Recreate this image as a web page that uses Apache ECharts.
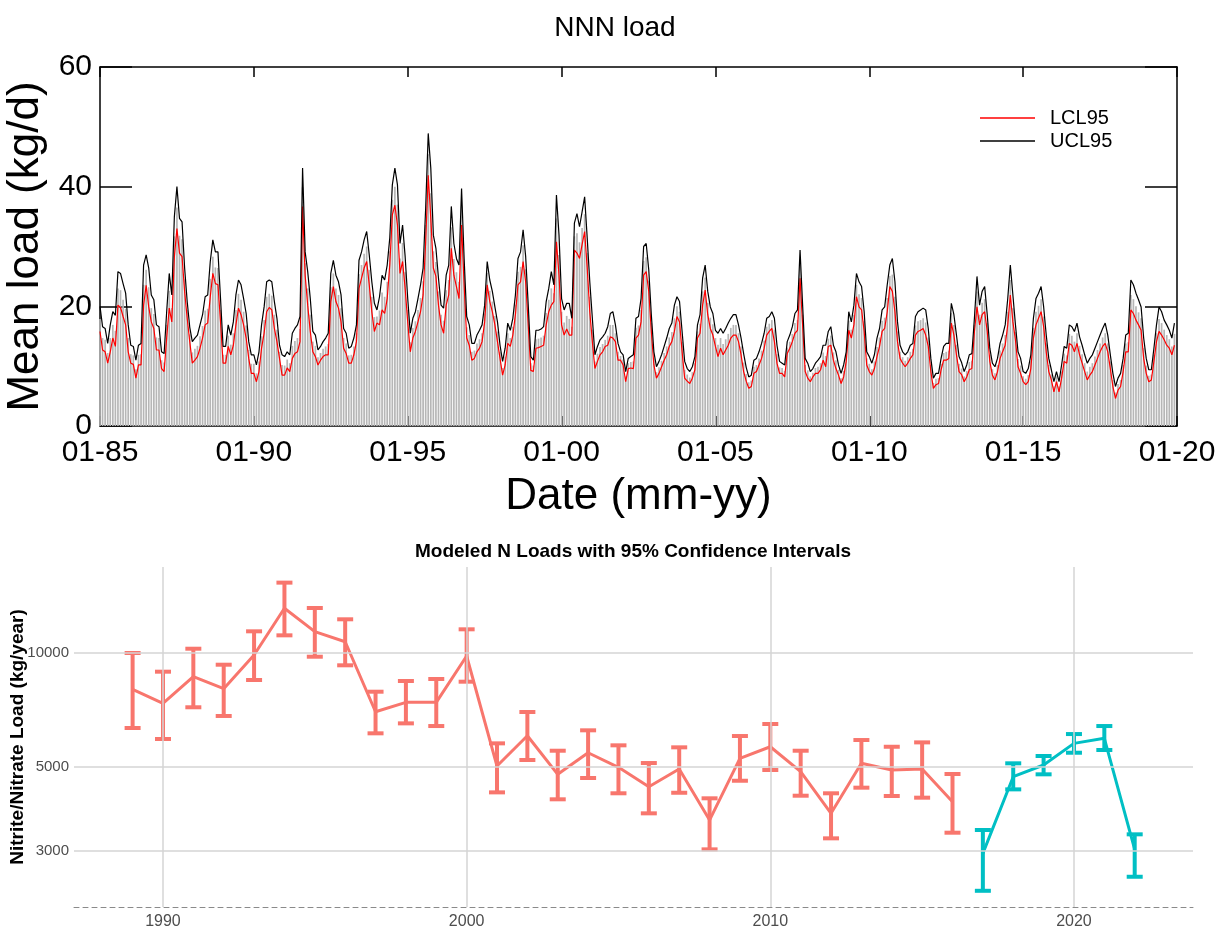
<!DOCTYPE html>
<html><head><meta charset="utf-8">
<script src="https://cdn.jsdelivr.net/npm/echarts@6/dist/echarts.min.js"></script>
<style>html,body{margin:0;padding:0;background:#fff}#c{width:1219px;height:926px}</style>
</head><body><div id="c"></div>
<script>
// ---------- Top chart: monthly NNN load (kg/d), one row per year 1985..2019 ----------
const startYear = 1985;
const monthlyUCL = [
[20.0,16.6,16.3,13.8,16.9,19.1,18.5,25.8,25.5,23.8,22.2,16.9],
[13.5,13.3,11.0,13.5,13.8,26.9,28.6,26.4,21.9,21.1,16.9,16.6],
[12.4,12.1,19.1,25.5,21.9,35.0,40.0,34.7,34.1,26.4,20.8,16.5],
[14.1,14.7,15.2,16.9,18.6,21.6,21.9,27.5,31.1,29.1,29.1,21.3],
[13.3,13.3,16.9,15.2,17.4,21.9,24.4,23.6,21.3,18.8,14.1,11.9],
[11.9,10.2,12.4,16.9,19.9,24.1,24.4,24.1,20.8,18.0,13.5,11.9],
[11.6,12.4,11.9,15.5,16.3,16.9,18.3,43.1,29.1,25.8,21.3,15.8],
[15.2,12.7,13.3,14.1,14.7,15.5,25.5,27.7,25.2,24.1,21.9,16.3],
[15.5,13.0,13.3,14.7,16.9,27.7,29.1,31.1,32.5,28.6,24.1,20.5],
[19.4,21.6,25.2,24.4,26.9,31.4,40.3,43.1,40.3,30.5,33.6,28.3],
[21.3,15.5,18.0,19.1,21.3,23.6,26.4,36.4,48.9,43.1,31.9,29.7],
[24.7,20.2,19.7,25.2,26.9,36.7,30.5,28.0,26.9,39.7,28.0,18.3],
[16.9,13.8,13.8,15.2,16.0,16.9,20.2,27.5,24.4,22.5,19.9,17.4],
[13.5,10.8,13.0,17.2,16.0,18.0,21.9,28.0,29.1,32.8,28.3,20.2],
[11.6,11.0,16.0,16.0,16.2,16.6,20.8,23.0,25.8,23.6,38.6,31.9],
[21.3,19.4,20.5,20.5,18.0,33.9,35.5,33.3,35.8,38.3,31.4,24.1],
[18.0,11.9,13.3,14.4,14.9,15.5,16.6,18.8,19.1,16.9,13.8,12.4],
[11.9,9.1,11.3,11.6,11.9,18.0,18.3,21.3,30.0,30.5,26.1,18.6],
[12.4,9.9,10.8,11.9,13.3,14.7,16.3,17.2,20.2,21.6,20.8,15.8],
[10.8,9.6,9.1,9.9,11.6,16.9,18.6,24.7,26.9,22.5,19.9,18.8],
[16.0,15.5,16.3,15.5,16.3,17.2,18.0,18.6,18.6,16.9,14.7,12.1],
[9.8,8.2,8.5,11.0,11.3,12.4,13.8,15.5,18.0,18.3,19.1,18.0],
[13.5,10.8,10.5,10.2,14.1,15.2,16.6,18.8,19.4,29.4,20.2,11.3],
[10.5,9.1,9.6,10.5,11.0,11.6,13.5,13.5,15.8,16.6,13.5,12.4],
[10.2,8.8,10.2,12.4,19.1,17.4,20.2,25.5,24.1,23.3,19.1,12.4],
[11.6,10.5,11.9,14.7,16.3,19.4,19.9,23.6,26.9,28.0,24.1,17.4],
[13.5,12.4,11.9,12.4,13.5,13.8,18.3,19.1,19.4,19.7,19.4,16.3],
[11.3,8.0,8.8,8.8,11.3,13.3,13.8,13.8,20.5,18.6,15.2,11.6],
[10.6,9.1,10.2,11.9,12.1,18.0,25.0,20.2,22.5,23.3,18.6,13.0],
[10.5,9.9,11.3,13.8,15.2,16.9,21.3,26.9,21.9,16.9,12.4,11.3],
[9.1,8.8,9.6,11.9,18.0,21.3,22.2,23.3,19.9,15.2,11.3,9.4],
[7.4,9.1,7.4,10.2,13.3,13.0,16.9,16.6,15.8,17.2,14.9,13.5],
[11.9,10.5,11.3,11.9,13.0,14.1,15.2,16.3,17.2,15.2,11.9,8.8],
[6.6,8.0,8.8,11.3,15.2,15.5,24.4,23.6,22.2,21.1,19.9,14.7],
[11.3,9.4,9.4,13.0,16.9,19.9,19.1,17.7,16.9,16.0,14.7,17.2]
];
const monthlyLCL = [
[15.8,12.7,12.4,10.5,12.4,14.7,13.3,20.2,19.8,18.3,16.9,12.4],
[10.5,10.3,8.0,10.2,10.2,20.2,23.5,19.9,17.4,16.3,12.7,12.7],
[9.6,9.1,14.7,19.7,17.4,28.3,33.0,28.9,28.3,22.5,18.0,14.1],
[10.5,11.0,11.6,13.0,14.7,16.9,17.2,21.6,25.5,23.8,23.6,17.4],
[10.5,10.5,13.3,11.9,13.5,16.9,19.7,18.6,16.9,14.7,11.3,8.8],
[8.8,7.4,9.1,13.0,15.5,19.1,19.8,19.4,16.3,14.1,11.3,8.5],
[8.5,9.7,9.1,11.3,12.1,12.4,14.1,36.7,25.2,20.2,15.8,12.4],
[11.6,10.2,11.0,11.6,11.9,11.9,20.8,23.3,20.8,19.7,17.4,13.0],
[12.1,10.5,10.5,11.9,14.1,23.0,24.7,26.4,27.5,23.6,19.1,15.8],
[17.2,16.9,19.4,18.8,21.3,26.9,35.3,36.9,33.6,25.5,27.5,23.0],
[17.4,12.4,14.7,15.8,17.4,19.1,21.9,30.8,41.9,34.7,26.4,25.0],
[20.2,16.9,15.5,20.2,21.9,29.7,25.2,23.3,21.3,33.6,23.6,14.7],
[13.5,11.0,11.3,12.4,13.0,14.1,17.4,23.6,20.8,19.1,16.9,14.1],
[11.3,8.5,10.2,13.8,13.3,15.2,18.6,23.6,24.1,27.5,24.1,16.9],
[9.3,9.1,13.0,13.1,13.3,13.5,16.9,19.1,20.2,20.8,30.8,25.2],
[16.9,15.2,16.2,15.2,15.2,29.4,28.9,28.0,30.3,32.5,26.4,19.1],
[14.1,9.6,10.8,11.9,12.4,13.3,13.5,14.9,14.7,14.1,11.0,11.0],
[10.2,7.4,9.6,9.7,9.6,14.7,15.2,17.4,25.2,25.8,22.5,15.8],
[10.2,8.0,8.8,9.9,11.0,11.9,13.3,14.1,15.8,18.3,17.4,12.4],
[8.0,7.5,7.1,8.0,9.4,14.7,15.5,20.2,22.7,18.6,16.3,15.2],
[13.3,11.6,13.0,11.9,12.7,13.5,14.7,15.2,15.2,14.1,11.9,9.1],
[7.5,6.3,6.6,8.8,9.1,10.2,11.3,13.0,15.2,15.8,16.3,14.1],
[10.5,8.8,8.8,8.2,12.1,13.0,14.1,15.5,16.0,24.7,16.9,9.1],
[8.0,7.4,8.2,8.8,8.8,9.4,11.0,9.9,13.3,13.5,11.0,9.6],
[8.5,7.1,8.2,10.8,16.0,14.7,16.9,21.6,19.9,19.4,15.8,10.2],
[9.1,8.5,9.6,11.6,13.3,15.8,16.3,19.1,23.3,22.5,19.1,14.1],
[11.3,10.5,9.9,10.5,11.3,11.9,15.2,15.8,16.0,16.3,15.2,13.3],
[9.1,6.3,6.9,7.1,9.4,11.0,11.0,11.3,17.2,15.2,11.9,9.1],
[8.6,7.4,8.2,9.4,9.6,15.8,19.9,16.9,18.6,19.1,15.8,10.8],
[8.5,7.7,9.1,11.3,12.4,13.5,16.9,21.9,17.4,14.4,9.9,8.8],
[7.4,6.9,7.4,9.6,14.7,16.9,18.0,19.1,16.6,12.4,9.1,7.7],
[5.7,7.4,5.7,8.0,10.8,10.5,13.8,13.5,12.4,13.8,11.9,10.5],
[9.1,7.7,8.5,9.1,10.2,11.3,12.4,13.3,13.8,12.4,9.6,6.6],
[4.6,6.0,6.6,9.1,12.4,12.4,19.4,18.8,17.7,16.9,16.0,11.3],
[8.8,7.4,7.7,10.8,14.1,15.8,15.2,14.4,13.5,13.0,11.9,13.5]
];
const monthlyMean = [
[17.9,14.7,14.4,12.2,14.7,16.9,15.9,23.0,22.7,21.1,19.6,14.7],
[12.0,11.8,9.5,11.9,12.0,23.6,26.1,23.2,19.7,18.7,14.8,14.7],
[11.0,10.6,16.9,22.6,19.7,31.7,36.5,31.8,31.2,24.5,19.4,15.3],
[12.3,12.9,13.4,15.0,16.7,19.3,19.6,24.6,28.3,26.5,26.4,19.4],
[11.9,11.9,15.1,13.6,15.5,19.4,22.1,21.1,19.1,16.8,12.7,10.4],
[10.4,8.8,10.8,15.0,17.7,21.6,22.1,21.8,18.6,16.1,12.4,10.2],
[10.1,11.1,10.5,13.4,14.2,14.7,16.2,39.9,27.2,23.0,18.6,14.1],
[13.4,11.5,12.2,12.9,13.3,13.7,23.2,25.5,23.0,21.9,19.7,14.7],
[13.8,11.8,11.9,13.3,15.5,25.4,26.9,28.8,30.0,26.1,21.6,18.2],
[18.3,19.3,22.3,21.6,24.1,29.2,37.8,40.0,37.0,28.0,30.6,25.7],
[19.4,14.0,16.4,17.5,19.4,21.4,24.2,33.6,45.4,38.9,29.2,27.4],
[22.5,18.6,17.6,22.7,24.4,33.2,27.9,25.7,24.1,36.7,25.8,16.5],
[15.2,12.4,12.6,13.8,14.5,15.5,18.8,25.6,22.6,20.8,18.4,15.8],
[12.4,9.7,11.6,15.5,14.7,16.6,20.3,25.8,26.6,30.2,26.2,18.6],
[10.5,10.1,14.5,14.6,14.8,15.1,18.9,21.1,23.0,22.2,34.7,28.6],
[19.1,17.3,18.4,17.9,16.6,31.7,32.2,30.7,33.1,35.4,28.9,21.6],
[16.1,10.8,12.1,13.2,13.7,14.4,15.1,16.9,16.9,15.5,12.4,11.7],
[11.1,8.3,10.5,10.7,10.8,16.4,16.8,19.4,27.6,28.2,24.3,17.2],
[11.3,9.0,9.8,10.9,12.2,13.3,14.8,15.7,18.0,20.0,19.1,14.1],
[9.4,8.6,8.1,9.0,10.5,15.8,17.1,22.5,24.8,20.6,18.1,17.0],
[14.7,13.6,14.7,13.7,14.5,15.4,16.4,16.9,16.9,15.5,13.3,10.6],
[8.7,7.3,7.6,9.9,10.2,11.3,12.6,14.3,16.6,17.1,17.7,16.1],
[12.0,9.8,9.7,9.2,13.1,14.1,15.4,17.2,17.7,27.1,18.6,10.2],
[9.3,8.3,8.9,9.7,9.9,10.5,12.3,11.7,14.6,15.1,12.3,11.0],
[9.4,8.0,9.2,11.6,17.6,16.1,18.6,23.6,22.0,21.4,17.5,11.3],
[10.4,9.5,10.8,13.2,14.8,17.6,18.1,21.4,25.1,25.3,21.6,15.8],
[12.4,11.5,10.9,11.5,12.4,12.9,16.8,17.5,17.7,18.0,17.3,14.8],
[10.2,7.2,7.9,8.0,10.4,12.2,12.4,12.6,18.9,16.9,13.6,10.4],
[9.6,8.3,9.2,10.7,10.9,16.9,22.5,18.6,20.6,21.2,17.2,11.9],
[9.5,8.8,10.2,12.6,13.8,15.2,19.1,24.4,19.7,15.7,11.2,10.1],
[8.3,7.9,8.5,10.8,16.4,19.1,20.1,21.2,18.3,13.8,10.2,8.6],
[6.6,8.3,6.6,9.1,12.1,11.8,15.4,15.1,14.1,15.5,13.4,12.0],
[10.5,9.1,9.9,10.5,11.6,12.7,13.8,14.8,15.5,13.8,10.8,7.7],
[5.6,7.0,7.7,10.2,13.8,14.0,21.9,21.2,20.0,19.0,18.0,13.0],
[10.1,8.4,8.6,11.9,15.5,17.9,17.2,16.1,15.2,14.5,13.3,15.4]
];
const topTickLabels = ['01-85','01-90','01-95','01-00','01-05','01-10','01-15','01-20'];
const topYTicks = [0, 20, 40, 60];

// ---------- Bottom chart: annual modeled loads (kg/year) ----------
const yearsA = [1989,1990,1991,1992,1993,1994,1995,1996,1997,1998,1999,2000,2001,2002,2003,2004,2005,2006,2007,2008,2009,2010,2011,2012,2013,2014,2015,2016];
const estA  = [8017,7365,8660,8050,9880,13125,11385,10710,6998,7410,7410,9820,5030,6048,4783,5454,4990,4436,4940,3622,5272,5656,4860,3773,5114,4910,4940,4050];
const lowA  = [6339,5929,7190,6820,8486,11135,9778,9280,6137,6520,6415,8400,4286,5218,4109,4677,4262,3773,4276,3031,4600,4910,4200,3241,4410,4193,4150,3354];
const highA = [10000,8927,10265,9314,11410,15340,13150,12275,7904,8437,8540,11550,5774,6986,5521,6250,5705,5123,5636,4134,6037,6494,5521,4262,5892,5656,5808,4792];
const yearsB = [2017,2018,2019,2020,2021,2022];
const estB  = [2958,4714,5062,5774,5953,3030];
const lowB  = [2356,4365,4783,5454,5546,2566];
const highB = [3410,5114,5346,6110,6415,3321];
const bottomYTicks = [3000, 5000, 10000];
const bottomXTicks = [1990, 2000, 2010, 2020];

const RED = '#F8766D', CYAN = '#00BFC4';
const SANS = '"Liberation Sans", Arial, sans-serif';

function monthly(rows) {
  const out = [];
  rows.forEach((r, y) => r.forEach((v, m) => out.push([y * 12 + m, v])));
  return out;
}
function zip2(xs, ys) { return xs.map((x, i) => [x, ys[i]]); }
function zip3(xs, a, b) { return xs.map((x, i) => [x, a[i], b[i]]); }

function errorBars(color) {
  return function (params, api) {
    const x = api.value(0);
    const lo = api.coord([x, api.value(1)]);
    const hi = api.coord([x, api.value(2)]);
    const hw = 8;
    const style = { stroke: color, lineWidth: 4, lineCap: 'butt' };
    return { type: 'group', children: [
      { type: 'line', shape: { x1: lo[0], y1: lo[1], x2: hi[0], y2: hi[1] }, style },
      { type: 'line', shape: { x1: lo[0] - hw, y1: lo[1], x2: lo[0] + hw, y2: lo[1] }, style },
      { type: 'line', shape: { x1: hi[0] - hw, y1: hi[1], x2: hi[0] + hw, y2: hi[1] }, style }
    ]};
  };
}

const chart = echarts.init(document.getElementById('c'), null, { renderer: 'canvas' });
const nMonths = monthlyUCL.length * 12;

const gridLineStyle = { color: '#d4d4d4', width: 1.5, type: 'solid' };
const frameLine = { onZero: false, lineStyle: { color: '#000', width: 1.5 } };

const option = {
  animation: false,
  backgroundColor: '#fff',
  title: [
    { text: 'NNN load', left: 610, top: 9, textAlign: 'center',
      textStyle: { fontFamily: SANS, fontSize: 28, fontWeight: 'normal', color: '#000' } },
    { text: 'Modeled N Loads with 95% Confidence Intervals', left: 628, top: 537, textAlign: 'center',
      textStyle: { fontFamily: SANS, fontSize: 19, fontWeight: 'bold', color: '#000' } }
  ],
  legend: {
    data: ['LCL95', 'UCL95'], orient: 'vertical', left: 975, top: 103,
    icon: 'rect', itemWidth: 55, itemHeight: 1.3, itemGap: 3,
    textStyle: { fontFamily: SANS, fontSize: 20, color: '#000', padding: [0, 0, 0, 10] }
  },
  grid: [
    { left: 100, top: 67, width: 1077, height: 359, outerBoundsMode: 'none', containLabel: false },
    { left: 74, top: 567, width: 1119, height: 340, outerBoundsMode: 'none', containLabel: false }
  ],
  xAxis: [
    { gridIndex: 0, type: 'value', min: 0, max: nMonths, interval: 60, position: 'bottom',
      axisLine: frameLine,
      axisTick: { inside: true, length: 10, lineStyle: { color: '#000', width: 1.5 } },
      axisLabel: { fontFamily: SANS, fontSize: 30, color: '#000', margin: 12, hideOverlap: false,
        showMinLabel: true, showMaxLabel: true,
        formatter: v => topTickLabels[Math.round(v / 60)] || '' },
      splitLine: { show: false },
      name: 'Date (mm-yy)', nameLocation: 'middle', nameGap: 49,
      nameTextStyle: { fontFamily: SANS, fontSize: 44, color: '#000' } },
    { gridIndex: 0, type: 'value', min: 0, max: nMonths, interval: 60, position: 'top',
      axisLine: frameLine,
      axisTick: { inside: true, length: 10, lineStyle: { color: '#000', width: 1.5 } },
      axisLabel: { show: false }, splitLine: { show: false } },
    { gridIndex: 1, type: 'value', min: 1987.07, max: 2023.92,
      axisLine: { show: true, onZero: false, lineStyle: { color: '#8a8a8a', width: 1, type: [5, 4] } },
      axisTick: { show: false },
      axisLabel: { customValues: bottomXTicks, fontFamily: SANS, fontSize: 16, color: '#4d4d4d', margin: 7,
        formatter: v => String(v) },
      splitLine: { show: false } }
  ],
  yAxis: [
    { gridIndex: 0, type: 'value', min: 0, max: 60, interval: 20, position: 'left',
      axisLine: Object.assign({ show: true }, frameLine),
      axisTick: { show: true, inside: true, length: 32, lineStyle: { color: '#000', width: 1.5 } },
      axisLabel: { fontFamily: SANS, fontSize: 30, color: '#000', margin: 8,
        formatter: v => topYTicks.includes(v) ? String(v) : '' },
      splitLine: { show: false },
      name: 'Mean load (kg/d)', nameLocation: 'middle', nameGap: 47,
      nameTextStyle: { fontFamily: SANS, fontSize: 44, color: '#000' } },
    { gridIndex: 0, type: 'value', min: 0, max: 60, interval: 20, position: 'right',
      axisLine: Object.assign({ show: true }, frameLine),
      axisTick: { show: true, inside: true, length: 32, lineStyle: { color: '#000', width: 1.5 } },
      axisLabel: { show: false }, splitLine: { show: false } },
    { gridIndex: 1, type: 'log', logBase: 10, min: 2135, max: 16870,
      axisLine: { show: false, onZero: false }, axisTick: { show: false }, axisLabel: { show: false },
      splitLine: { show: false },
      name: 'Nitrite/Nitrate Load (kg/year)', nameLocation: 'middle', nameGap: 47,
      nameTextStyle: { fontFamily: SANS, fontSize: 19, fontWeight: 'bold', color: '#000' } }
  ],
  series: [
    { name: 'Mean', type: 'bar', xAxisIndex: 0, yAxisIndex: 0, data: monthly(monthlyMean),
      barWidth: 1.7, itemStyle: { color: '#b6b6b6' }, silent: true },
    { name: 'LCL95', type: 'line', xAxisIndex: 0, yAxisIndex: 0, data: monthly(monthlyLCL),
      showSymbol: false, symbol: 'none', lineStyle: { color: '#ff0000', width: 1.2 }, itemStyle: { color: '#ff0000' } },
    { name: 'UCL95', type: 'line', xAxisIndex: 0, yAxisIndex: 0, data: monthly(monthlyUCL),
      showSymbol: false, symbol: 'none', lineStyle: { color: '#000', width: 1.2 }, itemStyle: { color: '#000' } },

    // bottom panel grid lines (beneath the data)
    { name: 'grid', type: 'line', xAxisIndex: 2, yAxisIndex: 2, data: zip2(yearsA, estA), z: 1,
      symbol: 'none', lineStyle: { opacity: 0 }, silent: true,
      markLine: { silent: true, symbol: 'none', animation: false, lineStyle: gridLineStyle,
        data: bottomYTicks.map(v => ({ yAxis: v, label: { show: true, position: 'start', distance: 5,
          formatter: String(v), fontFamily: SANS, fontSize: 15, color: '#4d4d4d' } }))
          .concat(bottomXTicks.map(v => ({ xAxis: v, label: { show: false } }))) } },

    { name: 'errA', type: 'custom', xAxisIndex: 2, yAxisIndex: 2, data: zip3(yearsA, lowA, highA),
      encode: { x: 0, y: [1, 2] }, renderItem: errorBars(RED), z: 3, silent: true },
    { name: 'estA', type: 'line', xAxisIndex: 2, yAxisIndex: 2, data: zip2(yearsA, estA),
      symbol: 'none', lineStyle: { color: RED, width: 3 }, z: 4, silent: true },
    { name: 'errB', type: 'custom', xAxisIndex: 2, yAxisIndex: 2, data: zip3(yearsB, lowB, highB),
      encode: { x: 0, y: [1, 2] }, renderItem: errorBars(CYAN), z: 3, silent: true },
    { name: 'estB', type: 'line', xAxisIndex: 2, yAxisIndex: 2, data: zip2(yearsB, estB),
      symbol: 'none', lineStyle: { color: CYAN, width: 3 }, z: 4, silent: true }
  ]
};
chart.setOption(option);
</script>
</body></html>
